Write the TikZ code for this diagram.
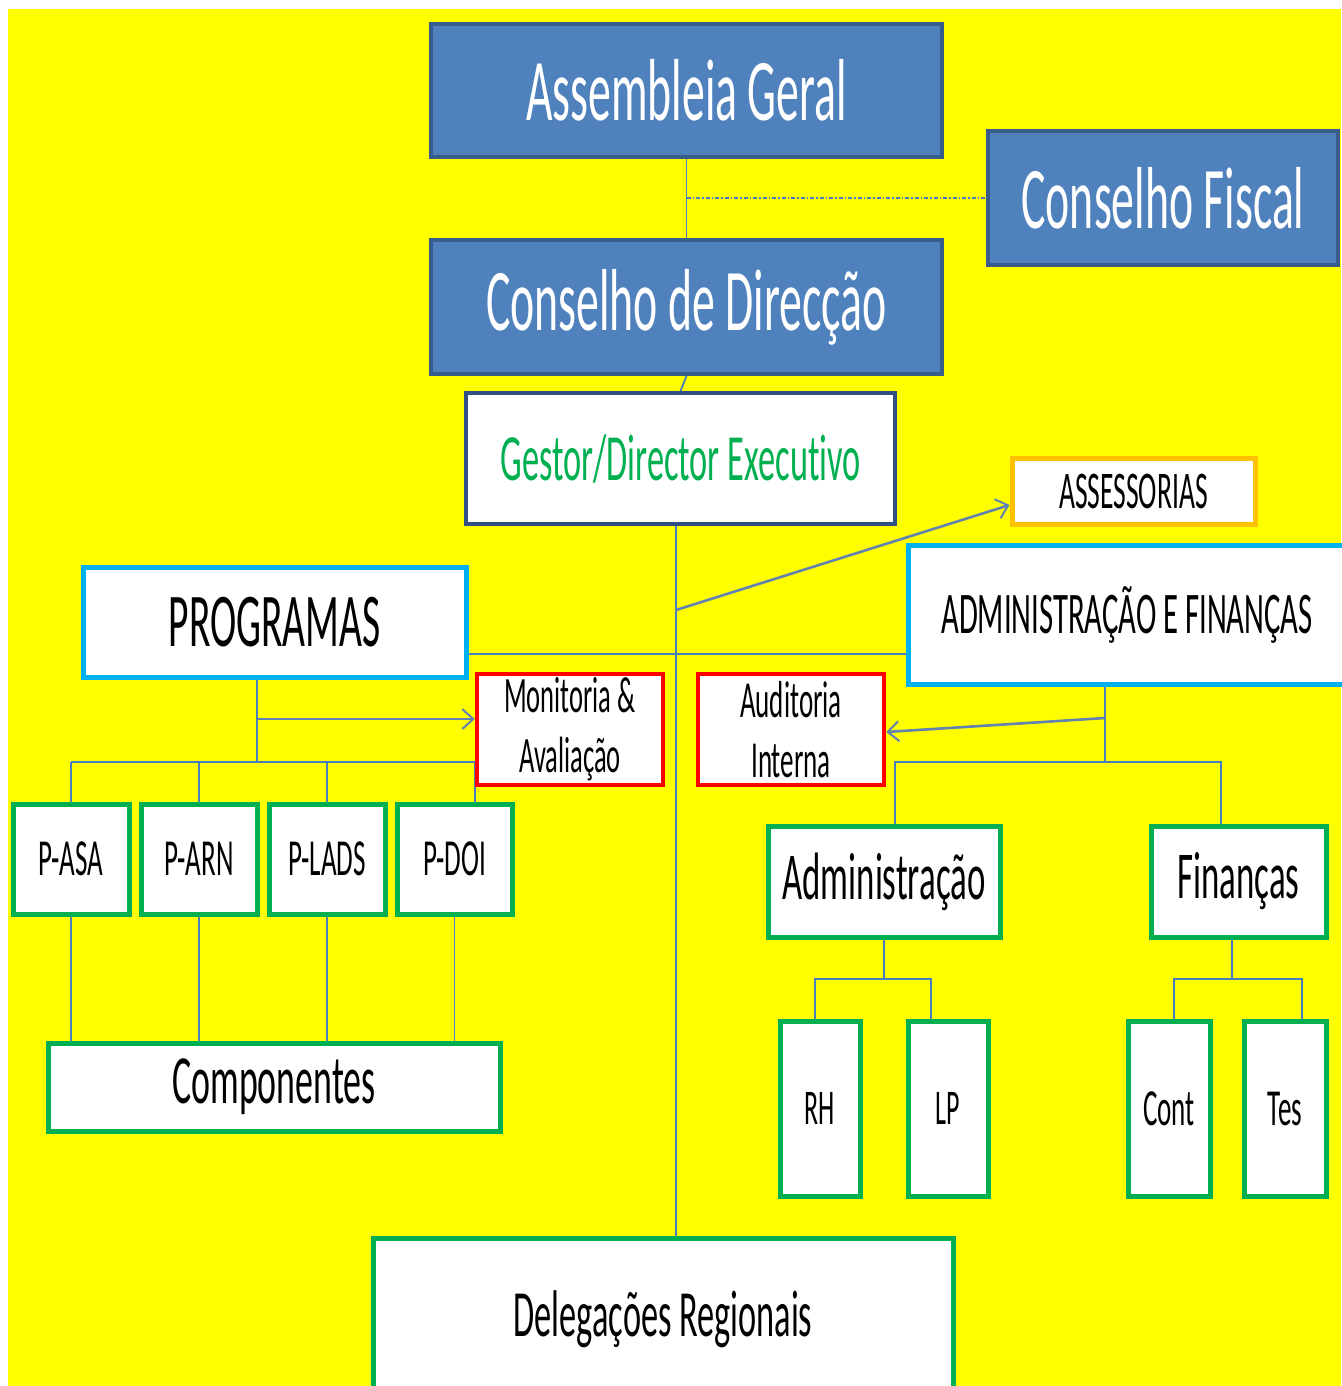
\documentclass[tikz,border=0pt]{standalone}
\usepackage{fontspec}
\setmainfont{Carlito}[FakeStretch=0.52,Ligatures=NoCommon]
\usetikzlibrary{arrows.meta}
\definecolor{bgyel}{HTML}{FFFF00}
\definecolor{blfill}{HTML}{4F81BD}
\definecolor{bldark}{HTML}{385D8A}
\definecolor{navyb}{HTML}{2F4F85}
\definecolor{gtxt}{HTML}{00B050}
\definecolor{cyanb}{HTML}{00B0F0}
\definecolor{orb}{HTML}{FFC000}
\definecolor{redb}{HTML}{FF0000}
\definecolor{grb}{HTML}{00B050}
\definecolor{connc}{HTML}{4A7EBB}
\definecolor{arrc}{HTML}{6283B0}
\newcommand\fsz[1]{\fontsize{#1}{#1}\selectfont}
\pgfdeclarelayer{back}
\pgfdeclarelayer{lines}
\pgfsetlayers{back,lines,main}
\tikzset{
  box/.style={rectangle, inner sep=0pt, fill=white, align=center, text=black},
  bluebox/.style={box, fill=blfill, draw=bldark, line width=4pt, text=white},
  navybox/.style={box, draw=navyb, line width=4pt, text=gtxt},
  cyanbox/.style={box, draw=cyanb, line width=5pt},
  orbox/.style={box, draw=orb, line width=5pt},
  redbox/.style={box, draw=redb, line width=4.5pt},
  grbox/.style={box, draw=grb, line width=5pt},
  conn/.style={draw=connc, line width=1.8pt},
  connarrow/.style={draw=arrc, line width=2.6pt, -{Straight Barb[length=11pt,width=20pt,line width=2pt]}},
  conndot/.style={draw=connc, line width=2.6pt, dash pattern=on 4pt off 2pt on 1.5pt off 2pt}
}
\begin{document}
\begin{tikzpicture}[x=1pt,y=-1pt]
\useasboundingbox (0,0) rectangle (1341,1386);
\begin{pgfonlayer}{back}
\fill[white] (0,0) rectangle (1341,1386);
\fill[bgyel] (8,9) rectangle (1341,1386);
\end{pgfonlayer}

% top blue boxes
\node[bluebox, minimum width=511pt, minimum height=133pt, font=\fsz{88}] (ag) at (686.5,90.5) {Assembleia Geral};
\node[bluebox, minimum width=350pt, minimum height=134pt, font=\fsz{88}] (cf) at (1163,198) {Conselho Fiscal};
\node[bluebox, minimum width=511pt, minimum height=134pt, font=\fsz{88}] (cd) at (686.5,307) {Conselho de Direcção};

\node[navybox, minimum width=429pt, minimum height=131pt, font=\fsz{66}] (gest) at (680.5,458.5) {Gestor/Director Executivo};
\node[orbox, minimum width=243pt, minimum height=66pt, font=\fsz{53}] (ass) at (1133.5,491) {ASSESSORIAS};
\node[cyanbox, minimum width=438pt, minimum height=139pt, font=\fsz{59}] (adm) at (1127,614.5) {ADMINISTRAÇÃO E FINANÇAS};
\node[cyanbox, minimum width=383pt, minimum height=110pt, font=\fsz{76}] (prog) at (274.5,622) {PROGRAMAS};

\node[redbox, minimum width=186pt, minimum height=111pt, font=\fontsize{51}{60}\selectfont] (mon) at (570,729.5) {Monitoria \&\\Avaliação};
\node[redbox, minimum width=186pt, minimum height=111pt, font=\fontsize{52}{60}\selectfont] (aud) at (791,729.5) {Auditoria\\Interna};

\node[grbox, minimum width=116pt, minimum height=110pt, font=\fsz{52}] (pasa) at (71,859) {P-ASA};
\node[grbox, minimum width=116pt, minimum height=110pt, font=\fsz{52}] (parn) at (199,859) {P-ARN};
\node[grbox, minimum width=116pt, minimum height=110pt, font=\fsz{52}] (plads) at (327,859) {P-LADS};
\node[grbox, minimum width=115pt, minimum height=110pt, font=\fsz{52}] (pdoi) at (454.5,859) {P-DOI};
\node[grbox, minimum width=452pt, minimum height=88pt, font=\fsz{69}] (comp) at (274,1087) {Componentes};

\node[grbox, minimum width=232pt, minimum height=111pt, font=\fsz{67}] (admin) at (884,881.5) {Administração};
\node[grbox, minimum width=175pt, minimum height=111pt, font=\fsz{67}] (fin) at (1238.5,881.5) {Finanças};

\node[grbox, minimum width=80pt, minimum height=175pt, font=\fsz{50}] (rh) at (820,1108.5) {RH};
\node[grbox, minimum width=80pt, minimum height=175pt, font=\fsz{50}] (lp) at (948,1108.5) {LP};
\node[grbox, minimum width=82pt, minimum height=175pt, font=\fsz{52}] (cont) at (1169,1108.5) {Cont};
\node[grbox, minimum width=82pt, minimum height=175pt, font=\fsz{52}] (tes) at (1285,1108.5) {Tes};

\node[grbox, minimum width=580pt, minimum height=162pt, font=\fsz{66}] (del) at (663,1319) {Delegações Regionais};

% helper coordinates
\coordinate (trunk) at (676,0);
\coordinate (hb) at (0,654);
\coordinate (pbar) at (257,762);
\coordinate (ma) at (0,719);
\coordinate (abar) at (1105,762);
\coordinate (aa) at (0,718);
\coordinate (adrop) at (895,762);
\coordinate (fdrop) at (1221,762);
\coordinate (rhd) at (815,979);
\coordinate (lpd) at (931,979);
\coordinate (fd) at (1232,979);
\coordinate (ctd) at (1174,979);
\coordinate (tsd) at (1302,979);

\begin{pgfonlayer}{lines}
\draw[conn] (ag.south) -- (cd.north);
\draw[conndot] (cf.west -| ag.south) -- (cf.west);
\draw[conn] (cd.south) -- (gest.north);
\draw[conn] (gest.south -| trunk) -- (del.north -| trunk);
\draw[connarrow] (trunk |- 0,610) -- ([yshift=-14pt]ass.west);
\draw[conn] (prog.east |- hb) -- (adm.west |- hb);
% programas branch
\draw[conn] (prog.south -| pbar) -- (pbar);
\draw[connarrow] (pbar |- ma) -- (mon.west |- ma);
\draw[conn] (pasa.north |- pbar) -- (mon.west |- pbar) -- (mon.west |- pdoi.north);
\draw[conn] (pasa.north |- pbar) -- (pasa.north);
\draw[conn] (parn.north |- pbar) -- (parn.north);
\draw[conn] (plads.north |- pbar) -- (plads.north);
\draw[conn] (pasa.south) -- (pasa.south |- comp.north);
\draw[conn] (parn.south) -- (parn.south |- comp.north);
\draw[conn] (plads.south) -- (plads.south |- comp.north);
\draw[conn] (pdoi.south) -- (pdoi.south |- comp.north);
% admin branch
\draw[conn] (adm.south -| abar) -- (abar);
\draw[connarrow] (abar |- aa) -- ([yshift=-2.5pt]aud.east);
\draw[conn] (admin.north -| adrop) -- (adrop) -- (fdrop) -- (fin.north -| fdrop);
\draw[conn] (admin.south) -- (admin.south |- rhd);
\draw[conn] (rh.north -| rhd) -- (rhd) -- (lpd) -- (lp.north -| lpd);
\draw[conn] (fin.south -| fd) -- (fd);
\draw[conn] (cont.north -| ctd) -- (ctd) -- (tsd) -- (tes.north -| tsd);
\end{pgfonlayer}
\end{tikzpicture}
\end{document}
